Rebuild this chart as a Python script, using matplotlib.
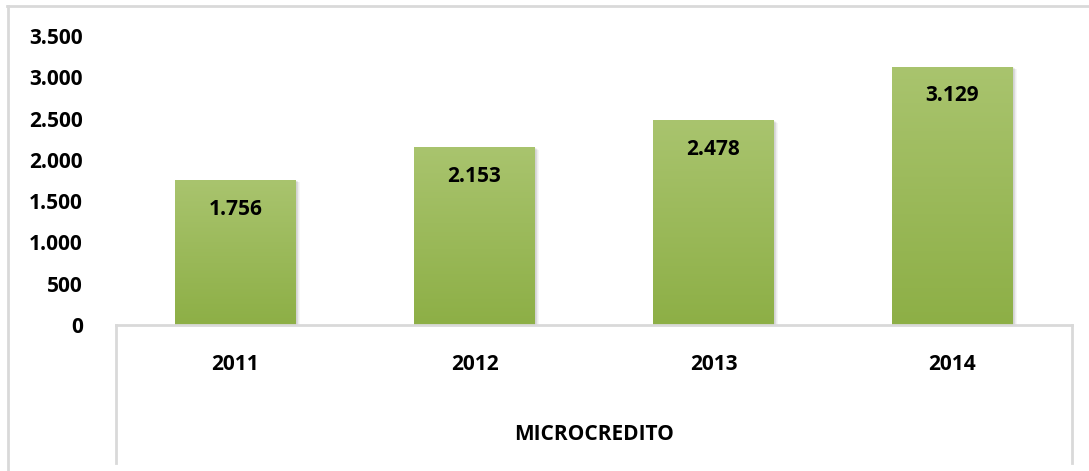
import matplotlib.pyplot as plt
import numpy as np
from matplotlib.lines import Line2D
from matplotlib.transforms import blended_transform_factory, offset_copy

# Datos
anios = ['2011', '2012', '2013', '2014']
microcredito = [1756, 2153, 2478, 3129]
yticks = [0, 500, 1000, 1500, 2000, 2500, 3000, 3500]
titulo_eje = 'MICROCREDITO'

plt.rcParams['font.family'] = ['Open Sans', 'DejaVu Sans']
plt.rcParams['font.weight'] = 'bold'
FS = 15

W, H = 1089, 471
fig = plt.figure(figsize=(W / 100, H / 100), dpi=100)

# area de trazado en pixeles (izq, arriba, der, abajo)
x0, y0, x1, y1 = 116, 36, 1072, 325
ax = fig.add_axes([x0 / W, 1 - y1 / H, (x1 - x0) / W, (y1 - y0) / H])

def fmt(v):
    return '{:,}'.format(v).replace(',', '.')

x = np.arange(len(anios))
ancho = 0.506
barras = ax.bar(x, microcredito, width=ancho, color='#9dbd5c', zorder=3)

# degradado vertical y sombra suave en cada barra
grad = np.linspace(0, 1, 256).reshape(256, 1, 1)
top = np.array([169, 196, 110]) / 255
bot = np.array([141, 175, 70]) / 255
img = top + (bot - top) * grad
px = 4 / (x1 - x0)  # un pixel en unidades de x
for b, v in zip(barras, microcredito):
    bx, bw, bh = b.get_x(), b.get_width(), b.get_height()
    for k in range(1, 6):
        ax.add_patch(plt.Rectangle((bx + k * px * 0.8, 0), bw, bh - k * 6,
                                   color='black', alpha=0.035, zorder=2, lw=0))
    im = ax.imshow(img, extent=(bx, bx + bw, 0, bh), aspect='auto', zorder=4)
    im.set_clip_path(b)
    ax.text(bx + bw / 2, bh, fmt(v),
            ha='center', va='center', fontsize=FS, fontweight='bold', zorder=5,
            transform=offset_copy(ax.transData, fig=fig, y=-29, units='dots'))

ax.set_xlim(-0.5, len(anios) - 0.5)
ax.set_ylim(0, 3500)
ax.set_yticks(yticks)
ax.set_yticklabels([fmt(v) for v in yticks], fontsize=FS, fontweight='bold')
ax.tick_params(axis='y', length=0, pad=24)
ax.set_xticks([])
for s in ['top', 'right', 'left']:
    ax.spines[s].set_visible(False)
ax.spines['bottom'].set_color('#d9d9d9')
ax.spines['bottom'].set_linewidth(2)
ax.spines['bottom'].set_zorder(6)

# etiquetas de categoria
tr = blended_transform_factory(ax.transData, ax.transAxes)
for i, a in enumerate(anios):
    ax.text(x[i], -40 / (y1 - y0), a, transform=tr, ha='center', va='center',
            fontsize=FS, fontweight='bold', clip_on=False)
ax.text(0.5, -(435 - y1) / (y1 - y0), titulo_eje, transform=ax.transAxes,
        ha='center', va='center', fontsize=FS, fontweight='bold', clip_on=False)

# lineas del cuadro del eje de categorias y borde del grafico
gris = '#d9d9d9'
def linea(xs, ys):
    fig.add_artist(Line2D([v / W for v in xs], [1 - v / H for v in ys],
                          transform=fig.transFigure, color=gris, lw=2))

linea([x0, x0], [y1, 463])
linea([x1, x1], [y1, 463])
linea([7.5, 7.5], [6, H])
linea([7, W], [6, 6])

fig.savefig('out.png', dpi=100, facecolor='white')
